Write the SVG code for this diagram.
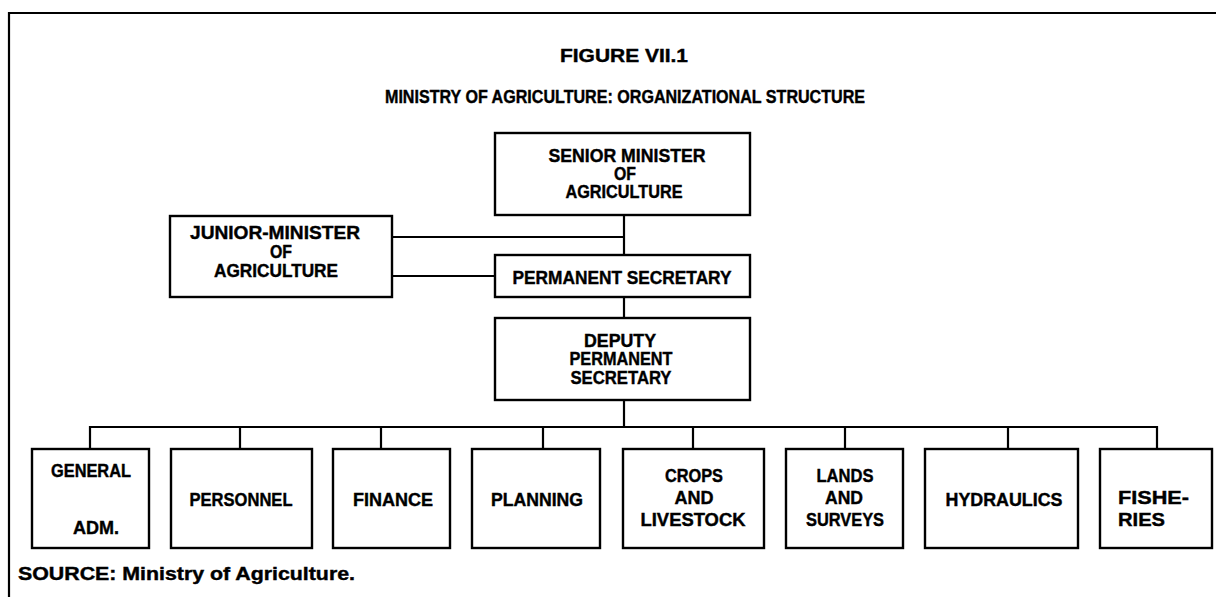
<svg xmlns="http://www.w3.org/2000/svg" width="1216" height="597" viewBox="0 0 1216 597">
  <style>
    .box { fill: #fff; stroke: #000; stroke-width: 2.4; }
    .ln { fill: none; stroke: #000; stroke-width: 2.2; }
    text { font-family: "Liberation Sans", Arial, sans-serif; font-weight: bold; font-size: 18px; fill: #000; stroke: #000; stroke-width: 0.4; }
    .c { text-anchor: middle; }
  </style>
  <rect width="1216" height="597" fill="#fff"/>

  <!-- page frame -->
  <path class="ln" d="M9,597 V13 H1216"/>

  <!-- titles -->
  <g id="title">
    <text class="c" x="624" y="62" textLength="128" lengthAdjust="spacingAndGlyphs">FIGURE VII.1</text>
    <text class="c" x="625" y="103" textLength="480" lengthAdjust="spacingAndGlyphs">MINISTRY OF AGRICULTURE: ORGANIZATIONAL STRUCTURE</text>
  </g>

  <!-- connectors -->
  <g id="connectors">
    <path class="ln" d="M624,215 V255"/>
    <path class="ln" d="M392,237 H624"/>
    <path class="ln" d="M392,276 H495"/>
    <path class="ln" d="M624,297 V318"/>
    <path class="ln" d="M624,400 V427"/>
    <path class="ln" d="M90,449 V427 H1157 V449"/>
    <path class="ln" d="M240,427 V449 M381,427 V449 M543,427 V449 M693,427 V449 M845,427 V449 M1008,427 V449"/>
  </g>

  <g id="senior-minister">
    <rect class="box" x="495" y="133" width="255" height="82"/>
    <text class="c" x="627" y="162" textLength="157" lengthAdjust="spacingAndGlyphs">SENIOR MINISTER</text>
    <text class="c" x="625" y="180" textLength="22" lengthAdjust="spacingAndGlyphs">OF</text>
    <text class="c" x="624" y="198" textLength="117" lengthAdjust="spacingAndGlyphs">AGRICULTURE</text>
  </g>

  <g id="junior-minister">
    <rect class="box" x="170" y="216" width="222" height="81"/>
    <text class="c" x="275" y="239" textLength="170" lengthAdjust="spacingAndGlyphs">JUNIOR-MINISTER</text>
    <text class="c" x="281" y="258" textLength="22" lengthAdjust="spacingAndGlyphs">OF</text>
    <text class="c" x="276" y="277" textLength="124" lengthAdjust="spacingAndGlyphs">AGRICULTURE</text>
  </g>

  <g id="permanent-secretary">
    <rect class="box" x="495" y="255" width="255" height="42"/>
    <text class="c" x="622" y="284" textLength="219" lengthAdjust="spacingAndGlyphs">PERMANENT SECRETARY</text>
  </g>

  <g id="deputy-permanent-secretary">
    <rect class="box" x="495" y="318" width="255" height="82"/>
    <text class="c" x="620" y="347" textLength="72" lengthAdjust="spacingAndGlyphs">DEPUTY</text>
    <text class="c" x="621" y="365" textLength="103" lengthAdjust="spacingAndGlyphs">PERMANENT</text>
    <text class="c" x="621" y="384" textLength="101" lengthAdjust="spacingAndGlyphs">SECRETARY</text>
  </g>

  <g id="general-adm">
    <rect class="box" x="32" y="449" width="117" height="99"/>
    <text class="c" x="91" y="477" textLength="80" lengthAdjust="spacingAndGlyphs">GENERAL</text>
    <text class="c" x="96" y="534" textLength="46" lengthAdjust="spacingAndGlyphs">ADM.</text>
  </g>

  <g id="personnel">
    <rect class="box" x="171" y="449" width="141" height="99"/>
    <text class="c" x="241" y="506" textLength="103" lengthAdjust="spacingAndGlyphs">PERSONNEL</text>
  </g>

  <g id="finance">
    <rect class="box" x="333" y="449" width="117" height="99"/>
    <text class="c" x="393" y="506" textLength="80" lengthAdjust="spacingAndGlyphs">FINANCE</text>
  </g>

  <g id="planning">
    <rect class="box" x="472" y="449" width="128" height="99"/>
    <text class="c" x="537" y="506" textLength="92" lengthAdjust="spacingAndGlyphs">PLANNING</text>
  </g>

  <g id="crops-livestock">
    <rect class="box" x="623" y="449" width="141" height="99"/>
    <text class="c" x="694" y="482" textLength="58" lengthAdjust="spacingAndGlyphs">CROPS</text>
    <text class="c" x="694" y="504" textLength="39" lengthAdjust="spacingAndGlyphs">AND</text>
    <text class="c" x="693" y="526" textLength="105" lengthAdjust="spacingAndGlyphs">LIVESTOCK</text>
  </g>

  <g id="lands-surveys">
    <rect class="box" x="786" y="449" width="117" height="99"/>
    <text class="c" x="845" y="482" textLength="57" lengthAdjust="spacingAndGlyphs">LANDS</text>
    <text class="c" x="844" y="504" textLength="38" lengthAdjust="spacingAndGlyphs">AND</text>
    <text class="c" x="845" y="526" textLength="78" lengthAdjust="spacingAndGlyphs">SURVEYS</text>
  </g>

  <g id="hydraulics">
    <rect class="box" x="925" y="449" width="153" height="99"/>
    <text class="c" x="1004" y="506" textLength="117" lengthAdjust="spacingAndGlyphs">HYDRAULICS</text>
  </g>

  <g id="fisheries">
    <rect class="box" x="1100" y="449" width="112" height="99"/>
    <text x="1118" y="504" textLength="71" lengthAdjust="spacingAndGlyphs">FISHE-</text>
    <text x="1118" y="526" textLength="47" lengthAdjust="spacingAndGlyphs">RIES</text>
  </g>

  <!-- source note -->
  <text x="18" y="580" textLength="337" lengthAdjust="spacingAndGlyphs">SOURCE: Ministry of Agriculture.</text>
</svg>
